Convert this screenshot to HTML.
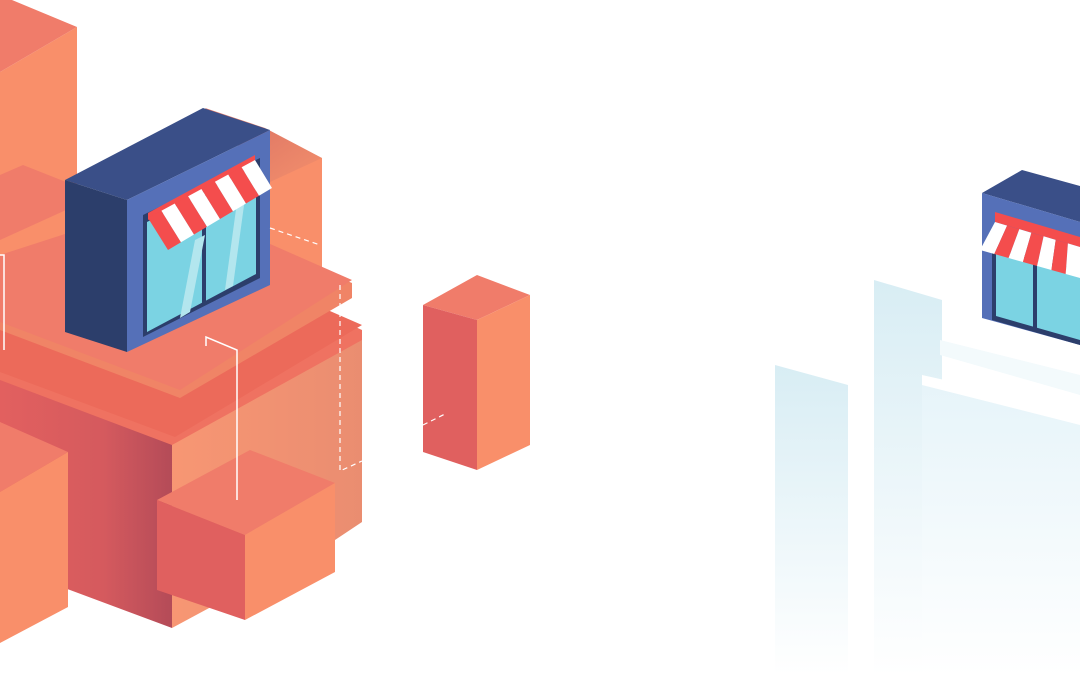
<!DOCTYPE html>
<html><head><meta charset="utf-8"><style>html,body{margin:0;padding:0;background:#fff}svg{display:block}</style></head>
<body>
<svg width="1080" height="675" viewBox="0 0 1080 675" xmlns="http://www.w3.org/2000/svg">
<defs>
<linearGradient id="lf" x1="0" y1="0" x2="1" y2="0"><stop offset="0" stop-color="#e2605f"/><stop offset="0.6" stop-color="#d55a5e"/><stop offset="1" stop-color="#b44b58"/></linearGradient>
<linearGradient id="rf" x1="0" y1="0" x2="1" y2="0"><stop offset="0" stop-color="#f7916c"/><stop offset="1" stop-color="#e98769"/></linearGradient>
<linearGradient id="bt" x1="0" y1="0" x2="1" y2="1"><stop offset="0" stop-color="#d66d62"/><stop offset="1" stop-color="#f38f6c"/></linearGradient>
<linearGradient id="gb" x1="0" y1="0" x2="0" y2="1"><stop offset="0" stop-color="#d8edf4"/><stop offset="1" stop-color="#ffffff"/></linearGradient>
<linearGradient id="gb2" x1="0" y1="0" x2="0" y2="1"><stop offset="0" stop-color="#e6f4f9"/><stop offset="1" stop-color="#ffffff"/></linearGradient>
</defs>
<!-- tall block -->
<polygon points="0,72 77,27 77,330 0,370" fill="#f98f6a"/>
<polygon points="0,0 12,0 77,27 0,72" fill="#f07c6a"/>
<!-- mid block -->
<polygon points="0,240 66,210 66,300 0,330" fill="#f98f6a"/>
<polygon points="0,175 23,165 66,182 66,210 0,240" fill="#f07c6a"/>
<!-- back block behind shop -->
<polygon points="270,150 322,158 322,310 270,320" fill="#f98f6a"/>
<polygon points="205,108 265,128 322,158 270,182" fill="url(#bt)"/>
<!-- base body -->
<polygon points="0,372 172,437 172,628 70,590 0,565" fill="url(#lf)"/>
<polygon points="172,437 362,338 362,522 335,540 172,628" fill="url(#rf)" opacity="0.95"/>
<!-- lower slab -->
<polygon points="0,300 190,250 362,330 362,340 172,445 0,380" fill="#ef7261"/>
<polygon points="0,300 190,250 362,325 175,437 0,372" fill="#ec6a5a"/>
<!-- upper slab -->
<polygon points="0,260 170,205 352,283 352,298 180,398 0,330" fill="#f08466"/>
<polygon points="0,255 170,200 352,280 180,390 0,322" fill="#f07c6a"/>
<!-- shop -->
<polygon points="65,180 203,108 270,130 127,200" fill="#3a4f88"/>
<polygon points="65,180 127,200 127,352 65,332" fill="#2c3e6b"/>
<polygon points="127,200 270,130 270,285 127,352" fill="#5570b8"/>
<polygon points="143,215 260,158 260,278 143,337" fill="#2c3e6b"/>
<polygon points="147,222 256,166 256,274 147,332" fill="#7bd3e3"/>
<line x1="204" y1="195" x2="204" y2="305" stroke="#2c3e6b" stroke-width="4"/>
<polygon points="180,318 195,240 205,235 190,312" fill="#b3e6ee"/>
<polygon points="225,290 240,180 248,176 233,286" fill="#b3e6ee"/>
<polygon points="148,213 255,155 255,162 148,220" fill="#f44d4d"/>
<g>
<polygon points="148,218 161.4,210.75 181,242.25 168,250" fill="#f44d4d"/>
<polygon points="161.4,210.75 174.75,203.5 194,234.5 181,242.25" fill="#fff"/>
<polygon points="174.75,203.5 188.1,196.25 207,226.75 194,234.5" fill="#f44d4d"/>
<polygon points="188.1,196.25 201.5,189 220,219 207,226.75" fill="#fff"/>
<polygon points="201.5,189 214.9,181.75 233,211.25 220,219" fill="#f44d4d"/>
<polygon points="214.9,181.75 228.25,174.5 246,203.5 233,211.25" fill="#fff"/>
<polygon points="228.25,174.5 241.6,167.25 259,195.75 246,203.5" fill="#f44d4d"/>
<polygon points="241.6,167.25 255,160 272,188 259,195.75" fill="#fff"/>
</g>
<!-- front-left block -->
<polygon points="0,422 68,452 0,492" fill="#f07c6a"/>
<polygon points="0,492 68,452 68,607 0,643" fill="#f98f6a"/>
<!-- front-center block -->
<polygon points="157,500 250,450 335,483 245,535" fill="#f07c6a"/>
<polygon points="157,500 245,535 245,620 157,590" fill="#e0605f"/>
<polygon points="245,535 335,483 335,572 245,620" fill="#f98f6a"/>
<!-- right block -->
<polygon points="423,305 477,275 530,295 477,320" fill="#f07c6a"/>
<polygon points="423,305 477,320 477,470 423,452" fill="#e0605f"/>
<polygon points="477,320 530,295 530,445 477,470" fill="#f98f6a"/>
<!-- white lines -->
<polyline points="206,346 206,337 237,350 237,500" fill="none" stroke="#fff" stroke-width="1.5"/>
<polyline points="0,255 4,255 4,350" fill="none" stroke="#fff" stroke-width="1.5"/>
<line x1="270" y1="228" x2="320" y2="245" stroke="#fff" stroke-width="1.2" stroke-dasharray="5,4"/>
<polyline points="340,285 340,471 362,461" fill="none" stroke="#fff" stroke-width="1.2" stroke-dasharray="5,4"/>
<line x1="423" y1="425" x2="447" y2="413" stroke="#fff" stroke-width="1.2" stroke-dasharray="5,4"/>
<!-- right ghost -->
<polygon points="775,365 848,385 848,675 775,675" fill="url(#gb)"/>
<polygon points="874,280 942,300 942,675 874,675" fill="url(#gb)"/>
<polygon points="922,380 1080,420 1080,675 922,675" fill="url(#gb2)"/>
<polygon points="922,375 1080,410 1080,425 922,385" fill="#ffffff"/>
<polygon points="940,340 1080,375 1080,395 940,355" fill="#f3fafc"/>
<polygon points="982,193 1022,170 1080,186 1080,222" fill="#3a4f88"/>
<polygon points="982,193 1080,222 1080,345 982,318" fill="#5570b8"/>
<polygon points="992,245 1080,270 1080,345 992,320" fill="#2c3e6b"/>
<polygon points="996,250 1080,274 1080,340 996,316" fill="#7bd3e3"/>
<line x1="1035" y1="262" x2="1035" y2="330" stroke="#2c3e6b" stroke-width="4"/>
<polygon points="995,212 1080,237 1080,247 995,222" fill="#f44d4d"/>
<g>
<polygon points="995,222 1007.1,225.6 994.3,254 980,250" fill="#fff"/>
<polygon points="1007.1,225.6 1019.3,229.1 1008.6,258 994.3,254" fill="#f44d4d"/>
<polygon points="1019.3,229.1 1031.4,232.7 1022.9,262 1008.6,258" fill="#fff"/>
<polygon points="1031.4,232.7 1043.6,236.3 1037.1,266 1022.9,262" fill="#f44d4d"/>
<polygon points="1043.6,236.3 1055.7,239.9 1051.4,270 1037.1,266" fill="#fff"/>
<polygon points="1055.7,239.9 1067.9,243.4 1065.7,274 1051.4,270" fill="#f44d4d"/>
<polygon points="1067.9,243.4 1080,247 1080,278 1065.7,274" fill="#fff"/>
</g>
</svg>
</body></html>
